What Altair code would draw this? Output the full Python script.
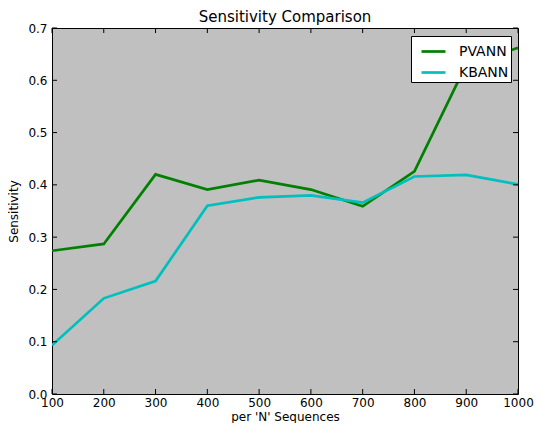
import altair as alt
import pandas as pd

sizes = [100, 200, 300, 400, 500, 600, 700, 800, 900, 1000]
pvann = [0.274, 0.287, 0.420, 0.391, 0.409, 0.391, 0.359, 0.426, 0.630, 0.662]
kbann = [0.093, 0.183, 0.216, 0.360, 0.376, 0.380, 0.366, 0.416, 0.419, 0.401]
x_ticks = [100, 200, 300, 400, 500, 600, 700, 800, 900, 1000]
y_ticks = [0.0, 0.1, 0.2, 0.3, 0.4, 0.5, 0.6, 0.7]
series_names = ["PVANN", "KBANN"]
series_colors = ["#008000", "#00bfbf"]

W, H = 466, 366
FONT = "DejaVu Sans"
TL = 5

df_p = pd.DataFrame({"n": sizes, "v": pvann, "series": "PVANN"})
df_k = pd.DataFrame({"n": sizes, "v": kbann, "series": "KBANN"})
df_xt = pd.DataFrame({"t": x_ticks})
df_yt = pd.DataFrame({"t": y_ticks})

xs = alt.Scale(domain=[100, 1000], nice=False, zero=False)
ys = alt.Scale(domain=[0, 0.7], nice=False, zero=False)
cs = alt.Scale(domain=series_names, range=series_colors)

legend = alt.Legend(
    title=None, orient="none", legendX=359, legendY=8,
    fillColor="white", strokeColor="black",
    padding=2, symbolOffset=7, symbolType="stroke", symbolSize=576,
    symbolStrokeWidth=2.7, labelFontSize=14, labelFont=FONT, labelColor="black",
    labelOffset=12, rowPadding=0, labelLimit=200,
)

x_axis = alt.Axis(values=x_ticks, format="d", domain=False, ticks=False, grid=False,
                  labelFlush=False, labelPadding=3, labelFontSize=12, labelFont=FONT,
                  labelColor="black", title="per 'N' Sequences", titleFontSize=12,
                  titleFont=FONT, titleFontWeight="normal", titleColor="black",
                  titlePadding=3)
y_axis = alt.Axis(values=y_ticks, format=".1f", domain=False, ticks=False, grid=False,
                  labelFlush=False, labelPadding=5, labelFontSize=12, labelFont=FONT,
                  labelColor="black", title="Sensitivity", titleFontSize=12,
                  titleFont=FONT, titleFontWeight="normal", titleColor="black",
                  titlePadding=7)

line_p = alt.Chart(df_p).mark_line(strokeWidth=2.7, clip=True).encode(
    x=alt.X("n:Q", scale=xs, axis=x_axis, title="per 'N' Sequences"),
    y=alt.Y("v:Q", scale=ys, axis=y_axis, title="Sensitivity"),
    color=alt.Color("series:N", scale=cs, legend=legend),
)
line_k = alt.Chart(df_k).mark_line(strokeWidth=2.7, clip=True).encode(
    x=alt.X("n:Q", scale=xs, axis=x_axis, title="per 'N' Sequences"),
    y=alt.Y("v:Q", scale=ys, axis=y_axis, title="Sensitivity"),
    color=alt.Color("series:N", scale=cs, legend=legend),
)

tick_b = alt.Chart(df_xt).mark_rule(color="black", strokeWidth=1).encode(
    x=alt.X("t:Q", scale=xs, axis=x_axis, title="per 'N' Sequences"),
    y=alt.value(H), y2=alt.value(H - TL))
tick_t = alt.Chart(df_xt).mark_rule(color="black", strokeWidth=1).encode(
    x=alt.X("t:Q", scale=xs, axis=x_axis, title="per 'N' Sequences"),
    y=alt.value(0), y2=alt.value(TL))
tick_l = alt.Chart(df_yt).mark_rule(color="black", strokeWidth=1).encode(
    y=alt.Y("t:Q", scale=ys, axis=y_axis, title="Sensitivity"),
    x=alt.value(0), x2=alt.value(TL))
tick_r = alt.Chart(df_yt).mark_rule(color="black", strokeWidth=1).encode(
    y=alt.Y("t:Q", scale=ys, axis=y_axis, title="Sensitivity"),
    x=alt.value(W), x2=alt.value(W - TL))

chart = alt.layer(line_p, line_k, tick_b, tick_t, tick_l, tick_r).properties(
    width=W, height=H,
    title=alt.TitleParams("Sensitivity Comparison", fontSize=15, font=FONT,
                          fontWeight="normal", color="black", offset=-3),
    autosize=alt.AutoSizeParams(type="none"),
    padding={"left": 44, "top": 20, "right": 16, "bottom": 29},
    background="white",
).configure_view(fill="#c0c0c0", stroke="black", strokeWidth=1
).configure_legend(strokeWidth=1, cornerRadius=0)

chart.save("out.html", embed_options={"renderer": "svg", "actions": False})
